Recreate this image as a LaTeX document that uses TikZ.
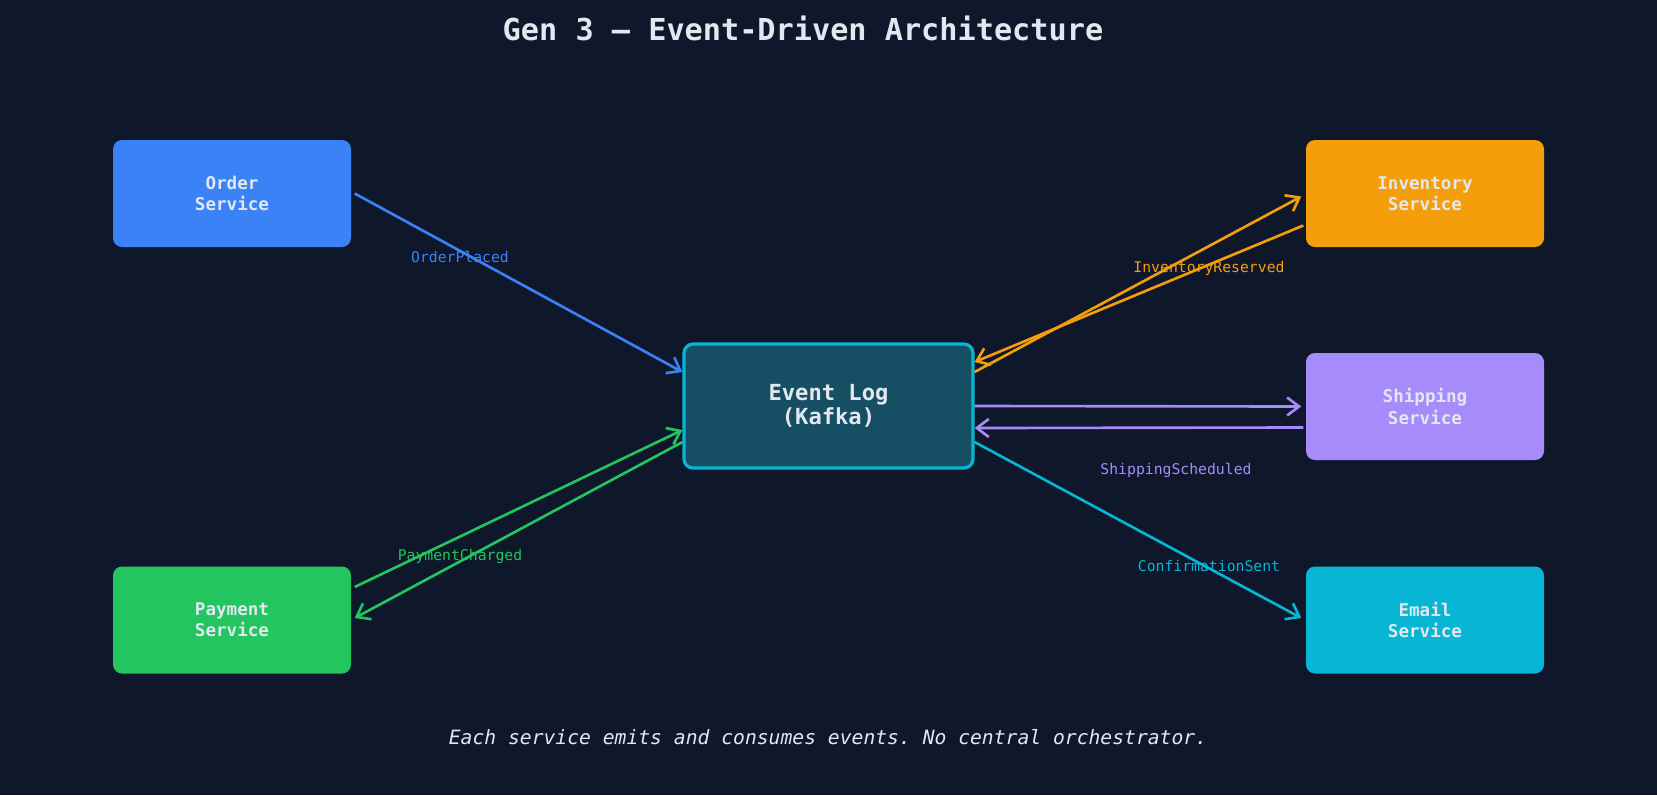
\documentclass[tikz,border=0pt]{standalone}
\usepackage{fontspec}
\setmonofont{DejaVu Sans Mono}
\usetikzlibrary{positioning,arrows.meta}
\definecolor{BgDark}{HTML}{0F172A}
\definecolor{TextLight}{HTML}{E2E8F0}
\definecolor{OrderBlue}{HTML}{3B82F6}
\definecolor{InvOrange}{HTML}{F59E0B}
\definecolor{ShipPurple}{HTML}{A78BFA}
\definecolor{PayGreen}{HTML}{22C55E}
\definecolor{MailCyan}{HTML}{06B6D4}
\definecolor{LogFill}{HTML}{164E63}
\tikzset{
  % service box
  service/.style={
    rectangle,
    rounded corners=0.9mm,
    minimum width=23.8mm,
    minimum height=10.7mm,
    inner sep=0pt,
    align=center,
    text=TextLight,
    font=\ttfamily\bfseries\fontsize{5}{6}\selectfont
  },
  % event log box
  eventlog/.style={
    rectangle,
    rounded corners=0.9mm,
    draw=MailCyan,
    fill=LogFill,
    line width=0.9pt,
    minimum width=28.9mm,
    minimum height=12.4mm,
    align=center,
    text=TextLight,
    font=\ttfamily\bfseries\fontsize{6.3}{7}\selectfont
  },
  % event edge
  evedge/.style={
    line width=0.75pt,
    -{Straight Barb[length=1.2mm,width=1.8mm]}
  },
  % event label
  evlabel/.style={
    font=\ttfamily\fontsize{4.2}{5}\selectfont
  }
}
\begin{document}
\begin{tikzpicture}[x=0.1mm,y=-0.1mm]
  \fill[BgDark] (0,0) rectangle (1657,795);
  \useasboundingbox (0,0) rectangle (1657,795);

  % title
  \node[text=TextLight, font=\ttfamily\bfseries\fontsize{8.6}{10}\selectfont] (title) at (803,28) {Gen 3 — Event-Driven Architecture};

  % nodes
  \node[eventlog] (log) at (828.5,406) {Event Log\\(Kafka)};
  \node[service, fill=OrderBlue] (order) at (232,193.5) {Order\\Service};
  \node[service, fill=PayGreen] (pay) at (232,620) {Payment\\Service};
  \node[service, fill=InvOrange] (inv) at (1425,193.5) {Inventory\\Service};
  \node[service, fill=ShipPurple] (ship) at (1425,406.5) {Shipping\\Service};
  \node[service, fill=MailCyan] (mail) at (1425,620) {Email\\Service};

  % edges
  \draw[evedge, OrderBlue] ([xshift=0.3mm]order.east) -- ([yshift=3.4mm]log.west);
  \draw[evedge, InvOrange] ([yshift=3.4mm]log.east) -- ([xshift=-0.4mm,yshift=-0.3mm]inv.west);
  \draw[evedge, InvOrange] ([xshift=-0.2mm,yshift=-3.2mm]inv.west) -- ([yshift=4.4mm]log.east);
  \draw[evedge, ShipPurple] (log.east) -- ([xshift=-0.4mm]ship.west);
  \draw[evedge, ShipPurple] ([xshift=-0.2mm,yshift=-2.1mm]ship.west) -- ([yshift=-2.2mm]log.east);
  \draw[evedge, MailCyan] ([yshift=-3.6mm]log.east) -- ([xshift=-0.4mm,yshift=0.2mm]mail.west);
  \draw[evedge, PayGreen] ([xshift=0.3mm,yshift=3.3mm]pay.east) -- ([yshift=-2.4mm]log.west);
  \draw[evedge, PayGreen] ([yshift=-3.6mm]log.west) -- ([xshift=0.3mm,yshift=0.2mm]pay.east);

  % labels
  \node[evlabel, text=OrderBlue] (lorder) at (460,257) {OrderPlaced};
  \node[evlabel, text=InvOrange] (linv) at (1209,268) {InventoryReserved};
  \node[evlabel, text=ShipPurple] (lship) at (1176,470) {ShippingScheduled};
  \node[evlabel, text=MailCyan] (lmail) at (1209,566) {ConfirmationSent};
  \node[evlabel, text=PayGreen] (lpay) at (460,556) {PaymentCharged};

  % footer
  \node[text=TextLight, font=\ttfamily\itshape\fontsize{5.6}{7}\selectfont] (foot) at (828,737) {Each service emits and consumes events. No central orchestrator.};
\end{tikzpicture}
\end{document}
